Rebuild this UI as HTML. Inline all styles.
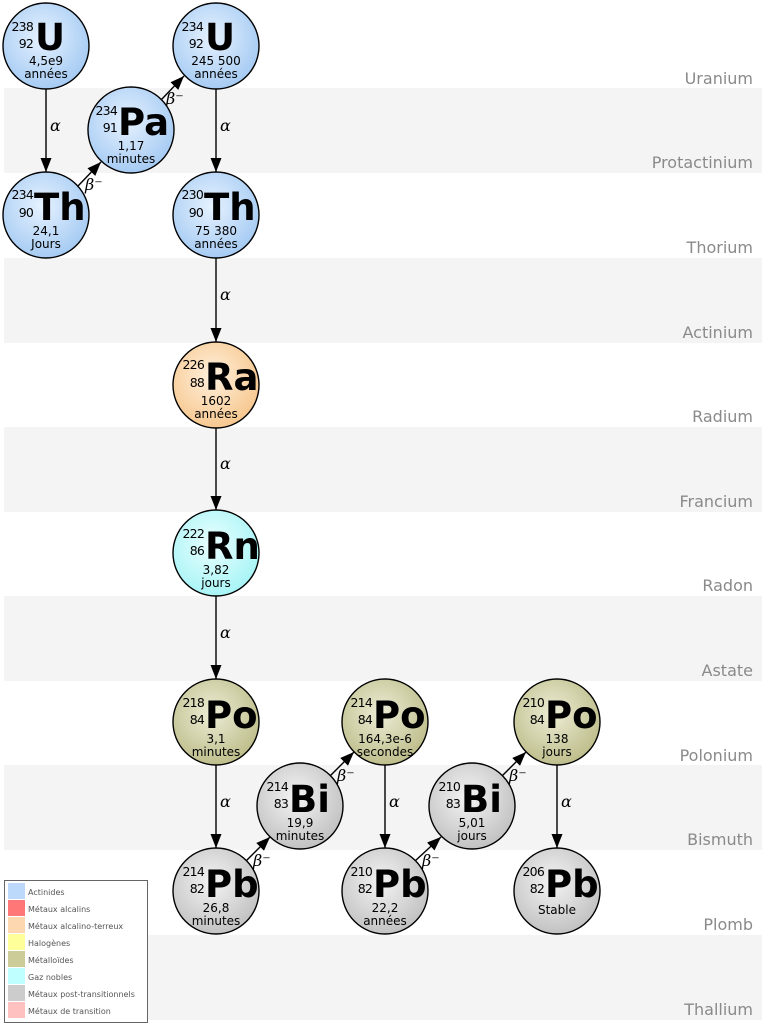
<!DOCTYPE html>
<html><head><meta charset="utf-8"><style>
body{margin:0;background:#fff}
svg{display:block;font-family:"DejaVu Sans","Liberation Sans",sans-serif}
.band{fill:#f4f4f4}
.lab{fill:#8a8a8a;font-size:16px;text-anchor:end}
.n{font-size:12.5px;text-anchor:end;letter-spacing:-0.8px}
.s{font-size:37px;font-weight:bold}
.h{font-size:12px;text-anchor:middle}
.g{font-size:16px;font-style:italic;font-family:"DejaVu Serif","Liberation Serif",serif}
.c{stroke:#000;stroke-width:1.4}
.ar{stroke:#000;stroke-width:1.4;marker-end:url(#m)}
.lg{font-size:8px;fill:#555}
</style></head><body>
<svg width="766" height="1024" viewBox="0 0 766 1024">
<defs>
<marker id="m" viewBox="0 0 10 10" refX="10" refY="5" markerWidth="14" markerHeight="11" markerUnits="userSpaceOnUse" orient="auto" preserveAspectRatio="none"><path d="M0,0L10,5L0,10z"/></marker>
<radialGradient id="b" cx="45%" cy="40%" r="60%"><stop offset="0" stop-color="#e6f2ff"/><stop offset="1" stop-color="#a6cbf3"/></radialGradient>
<radialGradient id="o" cx="45%" cy="40%" r="60%"><stop offset="0" stop-color="#fff0dc"/><stop offset="1" stop-color="#f7c890"/></radialGradient>
<radialGradient id="cy" cx="45%" cy="40%" r="60%"><stop offset="0" stop-color="#eaffff"/><stop offset="1" stop-color="#a8f4f6"/></radialGradient>
<radialGradient id="p" cx="45%" cy="40%" r="60%"><stop offset="0" stop-color="#ededd6"/><stop offset="1" stop-color="#bebe8c"/></radialGradient>
<radialGradient id="gr" cx="45%" cy="40%" r="60%"><stop offset="0" stop-color="#f4f4f4"/><stop offset="1" stop-color="#c2c2c2"/></radialGradient>
</defs>
<rect class="band" x="4" y="88" width="758" height="85"/>
<rect class="band" x="4" y="258" width="758" height="85"/>
<rect class="band" x="4" y="427" width="758" height="85"/>
<rect class="band" x="4" y="596" width="758" height="85"/>
<rect class="band" x="4" y="765" width="758" height="85"/>
<rect class="band" x="4" y="935" width="758" height="85"/>
<text class="lab" x="753" y="84">Uranium</text>
<text class="lab" x="753" y="168">Protactinium</text>
<text class="lab" x="753" y="253">Thorium</text>
<text class="lab" x="753" y="338">Actinium</text>
<text class="lab" x="753" y="422">Radium</text>
<text class="lab" x="753" y="507">Francium</text>
<text class="lab" x="753" y="591">Radon</text>
<text class="lab" x="753" y="676">Astate</text>
<text class="lab" x="753" y="761">Polonium</text>
<text class="lab" x="753" y="845">Bismuth</text>
<text class="lab" x="753" y="930">Plomb</text>
<text class="lab" x="753" y="1015">Thallium</text>

<line class="ar" x1="46" y1="89" x2="46" y2="172"/><text class="g" x="50" y="131">α</text>
<line class="ar" x1="216" y1="89" x2="216" y2="172"/><text class="g" x="220" y="131">α</text>
<line class="ar" x1="216" y1="258" x2="216" y2="342"/><text class="g" x="220" y="300">α</text>
<line class="ar" x1="216" y1="428" x2="216" y2="510"/><text class="g" x="220" y="469">α</text>
<line class="ar" x1="216" y1="596" x2="216" y2="679"/><text class="g" x="220" y="638">α</text>
<line class="ar" x1="216" y1="765" x2="216" y2="848"/><text class="g" x="220" y="807">α</text>
<line class="ar" x1="385" y1="765" x2="385" y2="848"/><text class="g" x="389" y="807">α</text>
<line class="ar" x1="557" y1="765" x2="557" y2="848"/><text class="g" x="561" y="807">α</text>
<line class="ar" x1="78" y1="186" x2="101" y2="162"/><text class="g" x="85" y="190">β⁻</text>
<line class="ar" x1="161" y1="100" x2="184" y2="76"/><text class="g" x="166" y="104">β⁻</text>
<line class="ar" x1="246" y1="861" x2="270" y2="837"/><text class="g" x="253" y="866">β⁻</text>
<line class="ar" x1="330" y1="776" x2="354" y2="752"/><text class="g" x="337" y="781">β⁻</text>
<line class="ar" x1="415" y1="861" x2="441" y2="837"/><text class="g" x="422" y="866">β⁻</text>
<line class="ar" x1="502" y1="776" x2="526" y2="752"/><text class="g" x="509" y="781">β⁻</text>

<g><circle class="c" cx="46" cy="46" r="43" fill="url(#b)"/><text class="n" x="33" y="31">238</text><text class="n" x="33" y="48">92</text><text class="s" x="35" y="50">U</text><text class="h" x="46" y="65">4,5e9</text><text class="h" x="46" y="78">années</text></g>
<g><circle class="c" cx="216" cy="46" r="43" fill="url(#b)"/><text class="n" x="203" y="31">234</text><text class="n" x="203" y="48">92</text><text class="s" x="205" y="50">U</text><text class="h" x="216" y="65">245 500</text><text class="h" x="216" y="78">années</text></g>
<g><circle class="c" cx="131" cy="130" r="43" fill="url(#b)"/><text class="n" x="117" y="115">234</text><text class="n" x="117" y="132">91</text><text class="s" x="118" y="135">Pa</text><text class="h" x="131" y="150">1,17</text><text class="h" x="131" y="163">minutes</text></g>
<g><circle class="c" cx="46" cy="215" r="43" fill="url(#b)"/><text class="n" x="33" y="199">234</text><text class="n" x="33" y="217">90</text><text class="s" x="34" y="220">Th</text><text class="h" x="46" y="235">24,1</text><text class="h" x="46" y="248">Jours</text></g>
<g><circle class="c" cx="216" cy="215" r="43" fill="url(#b)"/><text class="n" x="203" y="199">230</text><text class="n" x="203" y="217">90</text><text class="s" x="204" y="220">Th</text><text class="h" x="216" y="235">75 380</text><text class="h" x="216" y="248">années</text></g>
<g><circle class="c" cx="216" cy="385" r="43" fill="url(#o)"/><text class="n" x="204" y="369">226</text><text class="n" x="204" y="387">88</text><text class="s" x="205" y="390">Ra</text><text class="h" x="216" y="405">1602</text><text class="h" x="216" y="418">années</text></g>
<g><circle class="c" cx="216" cy="553" r="43" fill="url(#cy)"/><text class="n" x="204" y="538">222</text><text class="n" x="204" y="555">86</text><text class="s" x="205" y="559">Rn</text><text class="h" x="216" y="574">3,82</text><text class="h" x="216" y="587">jours</text></g>
<g><circle class="c" cx="216" cy="722" r="43" fill="url(#p)"/><text class="n" x="204" y="707">218</text><text class="n" x="204" y="724">84</text><text class="s" x="205" y="728">Po</text><text class="h" x="216" y="743">3,1</text><text class="h" x="216" y="756">minutes</text></g>
<g><circle class="c" cx="385" cy="722" r="43" fill="url(#p)"/><text class="n" x="372" y="707">214</text><text class="n" x="372" y="724">84</text><text class="s" x="373" y="728">Po</text><text class="h" x="385" y="743">164,3e-6</text><text class="h" x="385" y="756">secondes</text></g>
<g><circle class="c" cx="557" cy="722" r="43" fill="url(#p)"/><text class="n" x="544" y="707">210</text><text class="n" x="544" y="724">84</text><text class="s" x="545" y="728">Po</text><text class="h" x="557" y="743">138</text><text class="h" x="557" y="756">jours</text></g>
<g><circle class="c" cx="300" cy="806" r="43" fill="url(#gr)"/><text class="n" x="288" y="791">214</text><text class="n" x="288" y="808">83</text><text class="s" x="289" y="812">Bi</text><text class="h" x="300" y="827">19,9</text><text class="h" x="300" y="840">minutes</text></g>
<g><circle class="c" cx="472" cy="806" r="43" fill="url(#gr)"/><text class="n" x="460" y="791">210</text><text class="n" x="460" y="808">83</text><text class="s" x="461" y="812">Bi</text><text class="h" x="472" y="827">5,01</text><text class="h" x="472" y="840">jours</text></g>
<g><circle class="c" cx="216" cy="891" r="43" fill="url(#gr)"/><text class="n" x="204" y="876">214</text><text class="n" x="204" y="893">82</text><text class="s" x="205" y="897">Pb</text><text class="h" x="216" y="912">26,8</text><text class="h" x="216" y="925">minutes</text></g>
<g><circle class="c" cx="385" cy="891" r="43" fill="url(#gr)"/><text class="n" x="372" y="876">210</text><text class="n" x="372" y="893">82</text><text class="s" x="373" y="897">Pb</text><text class="h" x="385" y="912">22,2</text><text class="h" x="385" y="925">années</text></g>
<g><circle class="c" cx="557" cy="891" r="43" fill="url(#gr)"/><text class="n" x="544" y="876">206</text><text class="n" x="544" y="893">82</text><text class="s" x="545" y="897">Pb</text><text class="h" x="557" y="914">Stable</text></g>

<rect x="4.5" y="880.5" width="143" height="142" fill="#fff" stroke="#666"/>
<rect x="8" y="883" width="17" height="16" fill="#bcd9fb"/><text class="lg" x="28" y="895">Actinides</text>
<rect x="8" y="900" width="17" height="16" fill="#f77"/><text class="lg" x="28" y="912">Métaux alcalins</text>
<rect x="8" y="917" width="17" height="16" fill="#fdd7b0"/><text class="lg" x="28" y="929">Métaux alcalino-terreux</text>
<rect x="8" y="934" width="17" height="16" fill="#ffff99"/><text class="lg" x="28" y="946">Halogènes</text>
<rect x="8" y="951" width="17" height="16" fill="#cccc99"/><text class="lg" x="28" y="963">Métalloïdes</text>
<rect x="8" y="968" width="17" height="16" fill="#c0ffff"/><text class="lg" x="28" y="980">Gaz nobles</text>
<rect x="8" y="985" width="17" height="16" fill="#cccccc"/><text class="lg" x="28" y="997">Métaux post-transitionnels</text>
<rect x="8" y="1002" width="17" height="16" fill="#ffc0c0"/><text class="lg" x="28" y="1014">Métaux de transition</text>
</svg>
</body></html>
